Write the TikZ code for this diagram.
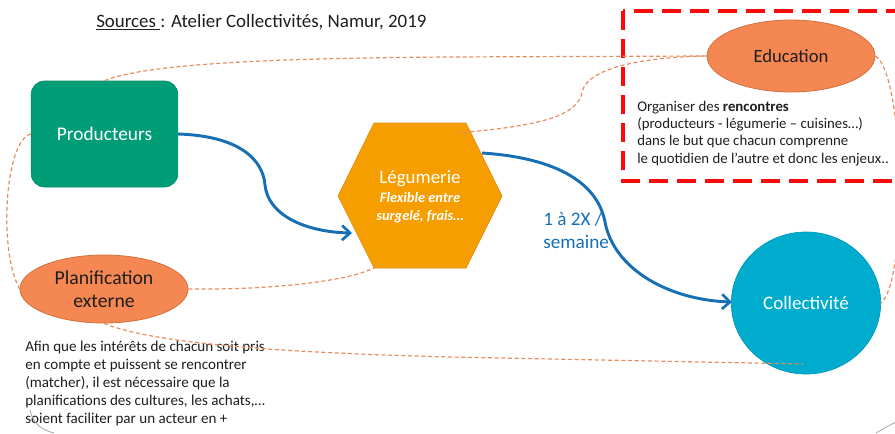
\documentclass[tikz,border=0pt]{standalone}
\usepackage{fontspec}
\setmainfont{Carlito}
\usetikzlibrary{arrows.meta,shapes.geometric}
\definecolor{prodgreen}{RGB}{0,157,118}
\definecolor{legorange}{RGB}{246,157,0}
\definecolor{legedge}{RGB}{225,140,20}
\definecolor{salmon}{RGB}{244,135,82}
\definecolor{salmonedge}{RGB}{210,112,60}
\definecolor{colblue}{RGB}{0,172,206}
\definecolor{coledge}{RGB}{0,150,185}
\definecolor{flowblue}{RGB}{22,110,180}
\definecolor{dashorange}{RGB}{232,140,95}
\definecolor{boxred}{RGB}{250,10,10}
\definecolor{darktext}{RGB}{30,30,30}
\begin{document}
\begin{tikzpicture}[x=0.75pt,y=-0.75pt,
  flow/.style={draw=flowblue,line width=2.2pt,-{Straight Barb[length=6pt,width=11pt,line width=2pt]}},
  link/.style={draw=dashorange,line width=0.9pt,dash pattern=on 3pt off 2pt},
  oval/.style={ellipse,fill=salmon,draw=salmonedge,line width=0.6pt,inner sep=0pt,text=darktext,align=center},
  note/.style={anchor=north west,inner sep=0pt,align=left,text=darktext,font=\fontsize{11.1}{13.1}\selectfont},
  smudge/.style={draw=gray!70,line width=0.6pt}]
\useasboundingbox (0,0) rectangle (895,433);

% title
\node[anchor=base west,inner sep=0pt,text=darktext,font=\fontsize{14.2}{16}\selectfont] (src) at (96,27) {\underline{Sources }: Atelier Collectivités, Namur, 2019};

% red dashed frame
\begin{scope}
\clip (0,0) rectangle (895,433);
\draw[boxred,line width=3pt,dash pattern=on 14pt off 7pt] (623,11) rectangle (930,181);
\end{scope}

% nodes
\node[draw=prodgreen!90!black,line width=0.5pt,fill=prodgreen,rounded corners=10pt,minimum width=110pt,minimum height=79.5pt,inner sep=0pt,text=white,font=\fontsize{14.5}{16}\selectfont] (prod) at (104.5,134) {Producteurs};

\coordinate (hTL) at (374,123);
\coordinate (hTR) at (466,123);
\coordinate (hR) at (502,196);
\coordinate (hBR) at (466,268);
\coordinate (hBL) at (374,268);
\coordinate (hL) at (338,196);
\fill[legorange,draw=legedge,line width=0.5pt] (hTL) -- (hTR) -- (hR) -- (hBR) -- (hBL) -- (hL) -- cycle;
\node[inner sep=0pt,text=white,align=center,font=\fontsize{14.2}{15}\selectfont] (leg) at (420,197)
  {Légumerie\\[-1pt]{\fontsize{10.8}{13.5}\selectfont\bfseries\itshape Flexible entre}\\[-1pt]{\fontsize{10.8}{13.5}\selectfont\bfseries\itshape surgelé, frais…}};

\node[ellipse,fill=colblue,draw=coledge,line width=0.5pt,minimum width=112pt,minimum height=106.5pt,inner sep=0pt,text=white,font=\fontsize{14.3}{15}\selectfont] (col) at (806,303) {Collectivité};

\node[oval,minimum width=126pt,minimum height=54pt,font=\fontsize{14}{15}\selectfont] (edu) at (791,56) {Education};

\node[oval,minimum width=126pt,minimum height=51pt,font=\fontsize{14.8}{17.5}\selectfont] (plan) at (104,289) {Planification\\externe};

% notes
\node[note] (edunote) at (637,100.5) {Organiser des \textbf{rencontres}\\(producteurs - légumerie – cuisines…)\\dans le but que chacun comprenne\\le quotidien de l’autre et donc les enjeux..};

\node[note,font=\fontsize{11.3}{13.5}\selectfont] (plannote) at (25,341) {Afin que les intérêts de chacun soit pris\\en compte et puissent se rencontrer\\(matcher), il est nécessaire que la\\planifications des cultures, les achats,…\\soient faciliter par un acteur en +};

\node[anchor=north west,inner sep=0pt,text=flowblue,align=left,font=\fontsize{14.4}{17}\selectfont] (freq) at (543,212) {1 à 2X /\\semaine};

% connector end points
\coordinate (legin) at (352,233);
\coordinate (legout) at (482,153);
\coordinate (colin) at (732,302);
\coordinate (leginner) at (457,133);
\coordinate (colinner) at (803,364);

% flows
\draw[flow] (prod.east) .. controls (240,136) and (263,160) .. (265,185) .. controls (268,215) and (305,232) .. (legin);
\draw[flow] (legout) .. controls (560,158) and (598,185) .. (605,222) .. controls (614,270) and (670,300) .. (colin);

% dashed links
\draw[link] (prod.north) .. controls (150,62) and (300,58) .. (450,57) -- (edu.west);
\draw[link] (leginner) .. controls (540,126) and (578,116) .. (582,92) .. controls (588,66) and (650,57) .. (edu.west);
\draw[link] (edu.east) .. controls (905,75) and (908,280) .. (col.east);
\draw[link] (prod.west) .. controls (5,140) and (-2,250) .. (plan.west);
\draw[link] (plan.east) .. controls (280,290) and (350,280) .. (hBL);
\draw[link] (plan.south) .. controls (150,342) and (260,352) .. (450,357) -- (colinner);

% faint pen strokes
\draw[smudge] (30,410) .. controls (33,424) and (42,430) .. (54,433);
\draw[smudge] (876,433) .. controls (884,428) and (890,425) .. (896,422);
\end{tikzpicture}
\end{document}
